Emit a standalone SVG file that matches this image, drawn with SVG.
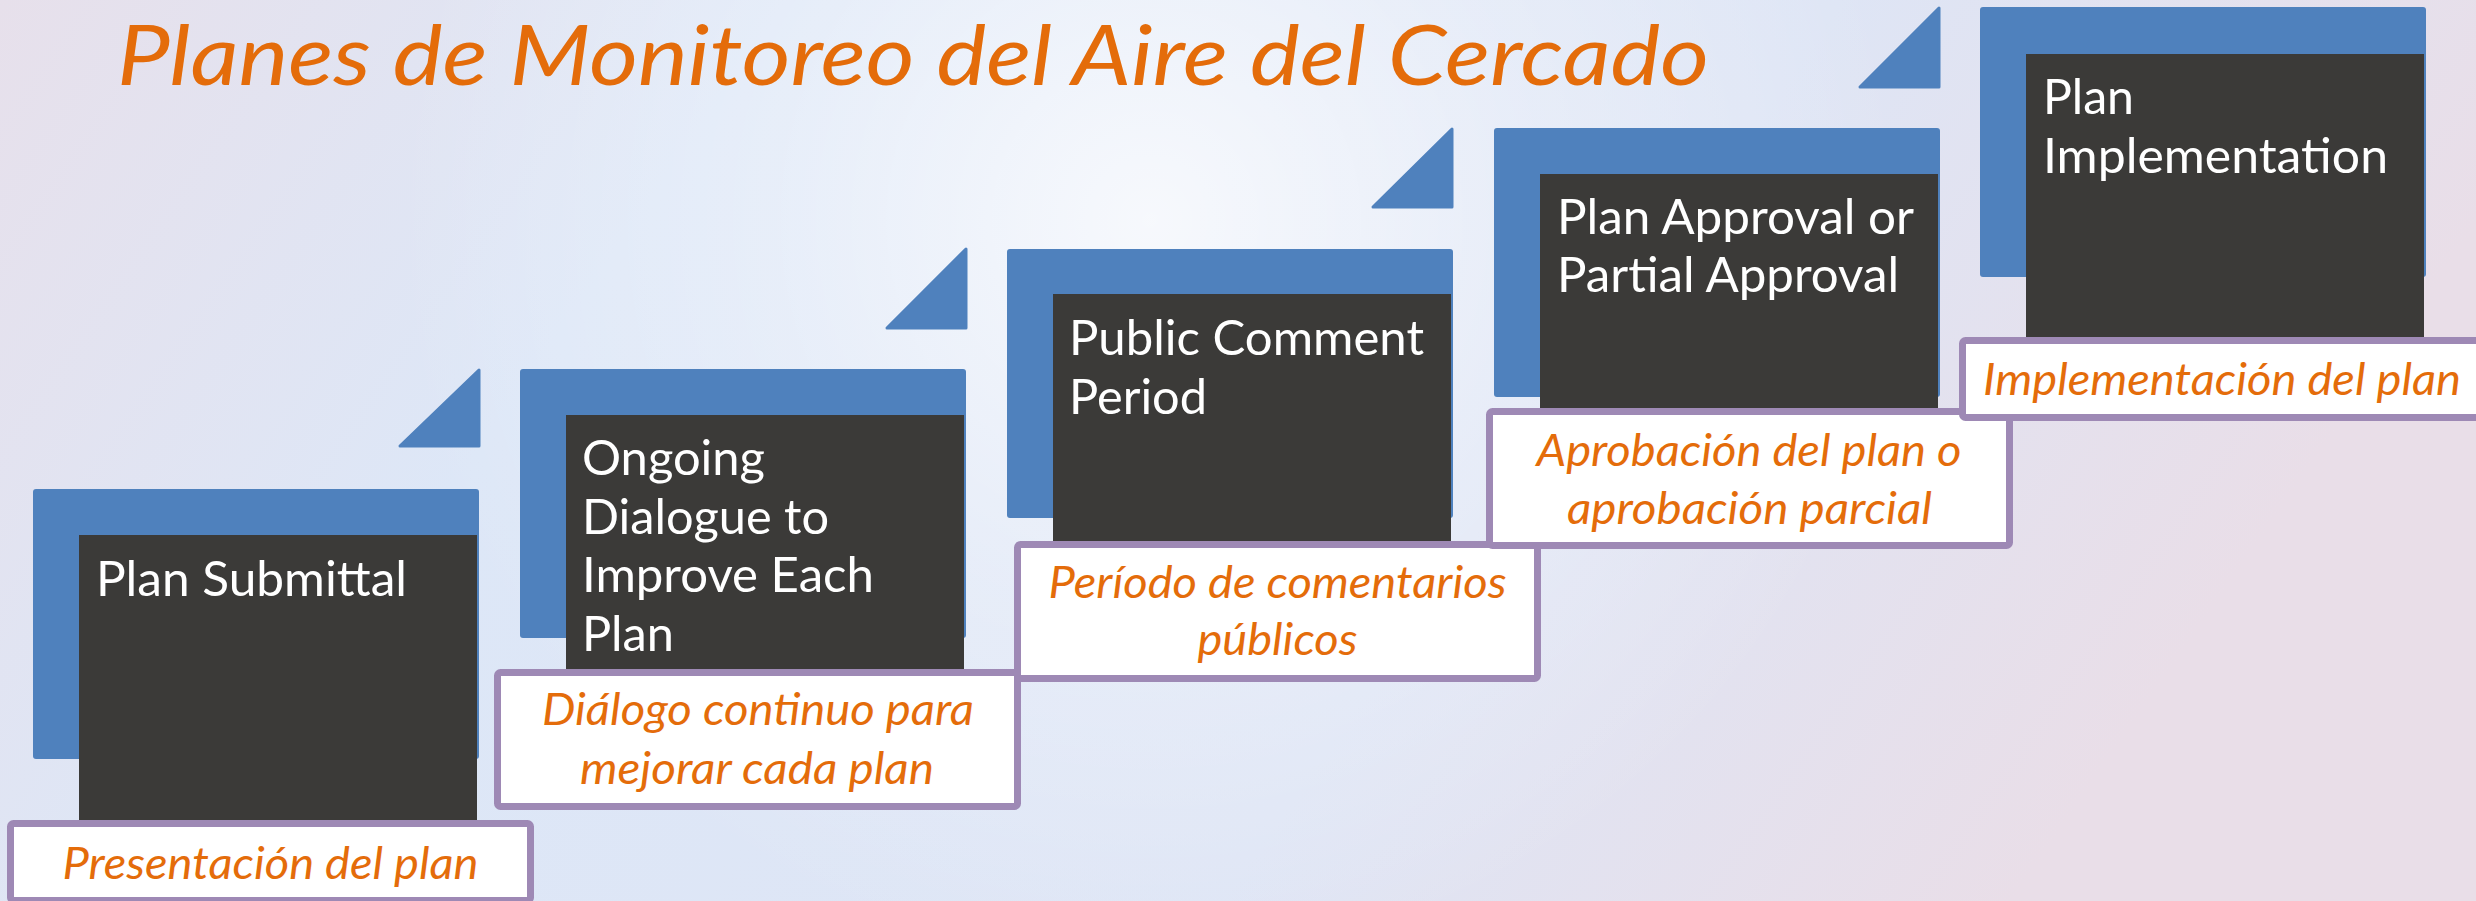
<svg xmlns="http://www.w3.org/2000/svg" width="2476" height="901" viewBox="0 0 2476 901">
  <defs>
    <linearGradient id="bgLin" x1="0" y1="0" x2="1" y2="0.25">
      <stop offset="0" stop-color="#E7E0EB"/>
      <stop offset="0.3" stop-color="#DDE7F7"/>
      <stop offset="0.7" stop-color="#DEE5F5"/>
      <stop offset="1" stop-color="#E9DEE8"/>
    </linearGradient>
    <radialGradient id="bgGlow" gradientUnits="userSpaceOnUse" cx="1150" cy="220" r="760">
      <stop offset="0" stop-color="#FFFFFF" stop-opacity="0.75"/>
      <stop offset="0.5" stop-color="#FFFFFF" stop-opacity="0.3"/>
      <stop offset="1" stop-color="#FFFFFF" stop-opacity="0"/>
    </radialGradient>
    <style>
      .blue { fill: #4F81BD; }
      .tri { fill: #4F81BD; stroke: #4F81BD; stroke-width: 3; stroke-linejoin: round; }
      .dark { fill: #3B3A38; }
      .lbl { fill: #FFFFFF; stroke: #9E89B5; stroke-width: 7; }
      .step { font-family: Lato, "Open Sans", "Liberation Sans", sans-serif; font-size: 48px; fill: #FFFFFF; }
      .es { font-family: Lato, "Open Sans", "Liberation Sans", sans-serif; font-style: italic; font-size: 45px; fill: #E46C0A; text-anchor: middle; }
      .title { font-family: Lato, "Open Sans", "Liberation Sans", sans-serif; font-style: italic; font-size: 83px; fill: #E46C0A; }
    </style>
  </defs>

  <rect x="0" y="0" width="2476" height="901" fill="url(#bgLin)"/>
  <rect x="0" y="0" width="2476" height="901" fill="url(#bgGlow)"/>

  <text id="title" class="title" x="117" y="85" textLength="1592" lengthAdjust="spacingAndGlyphs">Planes de Monitoreo del Aire del Cercado</text>

  <g id="connectors"></g>

  <g id="step1">
    <polygon class="tri" points="400,446 479,370 479,446"/>
    <rect class="blue" x="33" y="489" width="446" height="270" rx="3"/>
    <rect class="dark" x="79" y="535" width="398" height="295"/>
    <text class="step" x="96" y="596" textLength="311" lengthAdjust="spacingAndGlyphs">Plan Submittal</text>
    <rect class="lbl" x="10.5" y="823.5" width="520" height="77" rx="3"/>
    <text class="es" x="270.5" y="879" textLength="416" lengthAdjust="spacingAndGlyphs">Presentación del plan</text>
  </g>

  <g id="step2">
    <polygon class="tri" points="887,328 966,249 966,328"/>
    <rect class="blue" x="520" y="369" width="446" height="269" rx="3"/>
    <rect class="dark" x="566" y="415" width="398" height="265"/>
    <text class="step" x="582" y="475" textLength="183" lengthAdjust="spacingAndGlyphs">Ongoing</text>
    <text class="step" x="582" y="534" textLength="247" lengthAdjust="spacingAndGlyphs">Dialogue to</text>
    <text class="step" x="582" y="592" textLength="292" lengthAdjust="spacingAndGlyphs">Improve Each</text>
    <text class="step" x="582" y="651" textLength="92" lengthAdjust="spacingAndGlyphs">Plan</text>
    <rect class="lbl" x="497.5" y="672.5" width="520" height="134" rx="3"/>
    <text class="es" x="758" y="725" textLength="432" lengthAdjust="spacingAndGlyphs">Diálogo continuo para</text>
    <text class="es" x="757" y="784" textLength="354" lengthAdjust="spacingAndGlyphs">mejorar cada plan</text>
  </g>

  <g id="step3">
    <polygon class="tri" points="1373,207 1452,129 1452,207"/>
    <rect class="blue" x="1007" y="249" width="446" height="269" rx="3"/>
    <rect class="dark" x="1053" y="294" width="398" height="256"/>
    <text class="step" x="1069" y="354.5" textLength="355" lengthAdjust="spacingAndGlyphs">Public Comment</text>
    <text class="step" x="1069" y="414" textLength="138" lengthAdjust="spacingAndGlyphs">Period</text>
    <rect class="lbl" x="1017.5" y="544.5" width="520" height="134" rx="3"/>
    <text class="es" x="1277.5" y="597.5" textLength="458" lengthAdjust="spacingAndGlyphs">Período de comentarios</text>
    <text class="es" x="1277.5" y="655" textLength="160" lengthAdjust="spacingAndGlyphs">públicos</text>
  </g>

  <g id="step4">
    <polygon class="tri" points="1860,87 1939,8 1939,87"/>
    <rect class="blue" x="1494" y="128" width="446" height="269" rx="3"/>
    <rect class="dark" x="1540" y="174" width="398" height="244"/>
    <text class="step" x="1557" y="234" textLength="357" lengthAdjust="spacingAndGlyphs">Plan Approval or</text>
    <text class="step" x="1557" y="292" textLength="342" lengthAdjust="spacingAndGlyphs">Partial Approval</text>
    <rect class="lbl" x="1489.5" y="411.5" width="520" height="134" rx="3"/>
    <text class="es" x="1749" y="466" textLength="425" lengthAdjust="spacingAndGlyphs">Aprobación del plan o</text>
    <text class="es" x="1749.5" y="523.5" textLength="365" lengthAdjust="spacingAndGlyphs">aprobación parcial</text>
  </g>

  <g id="step5">
    <rect class="blue" x="1980" y="7" width="446" height="270" rx="3"/>
    <rect class="dark" x="2026" y="54" width="398" height="291"/>
    <text class="step" x="2043" y="114" textLength="91" lengthAdjust="spacingAndGlyphs">Plan</text>
    <text class="step" x="2043" y="172.7" textLength="345" lengthAdjust="spacingAndGlyphs">Implementation</text>
    <rect class="lbl" x="1962.5" y="340.5" width="520" height="77" rx="3"/>
    <text class="es" x="2222" y="395" textLength="478" lengthAdjust="spacingAndGlyphs">Implementación del plan</text>
  </g>
</svg>
